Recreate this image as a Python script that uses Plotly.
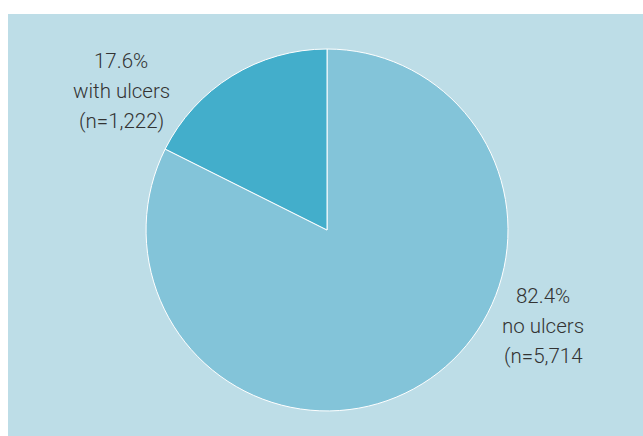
import plotly.graph_objects as go

# Patients split by ulcer status
categories = ["no ulcers", "with ulcers"]
counts = [5714, 1222]
count_labels = ["(n=5,714", "(n=1,222)"]
slice_colors = ["#83C4D9", "#43AECB"]

panel_bg = "#BDDDE7"
text_color = "#333333"

total = sum(counts)
label_lines = [
    [f"{c / total * 100:.1f}%", cat, nl]
    for c, cat, nl in zip(counts, categories, count_labels)
]

# big slice runs clockwise from 12 o'clock, small slice fills the rest
fig = go.Figure(
    go.Pie(
        labels=categories,
        values=counts,
        sort=False,
        direction="clockwise",
        rotation=0,
        textinfo="none",
        hoverinfo="label+value+percent",
        marker=dict(colors=slice_colors, line=dict(color="white", width=1)),
        domain=dict(x=[0.2174, 0.7874], y=[0.0593, 0.9171]),
        showlegend=False,
    )
)

# light blue panel behind the pie
fig.add_shape(
    type="rect", xref="paper", yref="paper", x0=0, x1=1, y0=0, y1=1,
    fillcolor=panel_bg, line=dict(width=0), layer="below",
)

# each label is three lines, stacked around a centre point
label_pos = [(0.843, 0.2607), (0.178, 0.8175)]
line_step = 30 / 422
for lines, (x, y) in zip(label_lines, label_pos):
    for k, line in enumerate(lines):
        fig.add_annotation(
            x=x, y=y + (1 - k) * line_step, xref="paper", yref="paper",
            text=line, showarrow=False,
            xanchor="center", yanchor="middle", align="center",
            font=dict(family="Roboto", size=20.5, color=text_color, weight=300),
        )

fig.update_layout(
    width=643, height=436,
    margin=dict(l=8, r=0, t=14, b=0),
    paper_bgcolor="white",
    plot_bgcolor=panel_bg,
)

fig.write_html("out.html")
